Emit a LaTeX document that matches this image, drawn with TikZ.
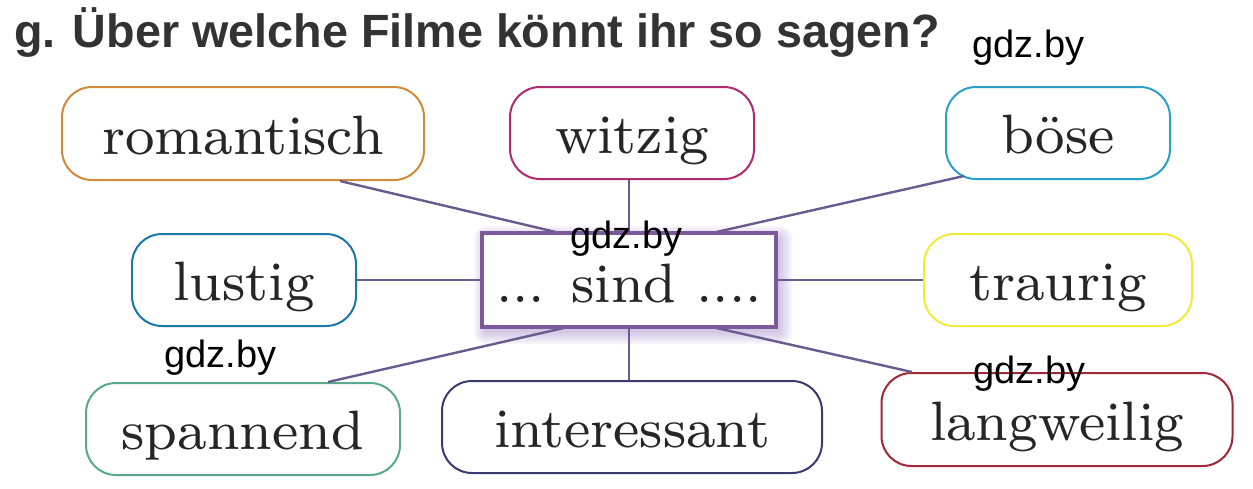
\documentclass[tikz,border=0pt]{standalone}
\usepackage{fontspec}
\newfontfamily\titlefont{Liberation Sans}
\newfontfamily\boxfont{lmroman8-regular}[Extension=.otf]
\definecolor{txt}{HTML}{262626}
\definecolor{ttl}{HTML}{333333}
\definecolor{cOrange}{HTML}{D08A3A}
\definecolor{cMagenta}{HTML}{B02A70}
\definecolor{cCyan}{HTML}{2AA0C8}
\definecolor{cBlue}{HTML}{1A78A8}
\definecolor{cYellow}{HTML}{F0EA3A}
\definecolor{cTeal}{HTML}{5AA890}
\definecolor{cNavy}{HTML}{3A3A70}
\definecolor{cRed}{HTML}{A0283A}
\definecolor{cPurple}{HTML}{7A5A9A}
\definecolor{cLine}{HTML}{6B5A8E}
\definecolor{cShadow}{HTML}{9A7AC8}
\tikzset{
  word/.style={draw=#1, line width=2pt, rounded corners=30pt, text=txt,
    font=\boxfont\fontsize{55.5}{58}\selectfont, text height=46pt, text depth=5pt,
    inner sep=0pt, align=center},
  hub/.style={draw=cPurple, line width=3.2pt, fill=white, text=txt,
    font=\boxfont\fontsize{55.5}{58}\selectfont, text height=48pt, text depth=4pt,
    inner sep=0pt, minimum width=294pt, minimum height=94pt},
  link/.style={draw=cLine, line width=2.4pt},
  wm/.style={font=\titlefont\fontsize{38}{40}\selectfont, text=black, anchor=base west, inner sep=0pt},
}
\begin{document}
\begin{tikzpicture}[x=1pt,y=-1pt]
\useasboundingbox (0,0) rectangle (1253,488);
\fill[white] (0,0) rectangle (1253,488);

\node[font=\titlefont\bfseries\fontsize{46.7}{50}\selectfont, text=ttl, anchor=base west, inner sep=0pt] (title) at (14,47) {g. Über welche Filme könnt ihr so sagen?};

\node[word=cOrange, minimum width=362pt, minimum height=93pt] (rom) at (243,133.5) {romantisch};
\node[word=cMagenta, minimum width=244pt, minimum height=92pt] (witz) at (632,133) {witzig};
\node[word=cCyan, minimum width=224pt, minimum height=92pt] (bose) at (1058,133) {böse};
\node[word=cBlue, minimum width=224pt, minimum height=92pt] (lus) at (244,280) {lustig};
\node[word=cYellow, minimum width=268pt, minimum height=92pt] (trau) at (1058,280) {traurig};
\node[word=cTeal, minimum width=314pt, minimum height=92pt] (spann) at (243,429) {spannend};
\node[word=cNavy, minimum width=380pt, minimum height=92pt] (inter) at (632,427) {interessant};
\node[word=cRed, minimum width=351pt, minimum height=93pt] (lang) at (1057,419.5) {langweilig};

% soft shadow of the hub
\foreach \r in {12,10,...,0}{
  \fill[cShadow, opacity=0.07, rounded corners=\r pt]
    (482-\r+4, 233-\r+5) rectangle (776+\r+4, 327+\r+5);
}

\draw[link] ([xshift=97pt]rom.south) -- (560,233) coordinate (hubA);
\draw[link] (witz.south -| 629,0) -- (629,233) coordinate (hubB);
\draw[link] ([xshift=-94pt,yshift=4pt]bose.south) -- (712,233) coordinate (hubC);
\draw[link] (lus.east) -- (482,280) coordinate (hubD);
\draw[link] (776,280) coordinate (hubE) -- (trau.west);
\draw[link] ([xshift=85pt]spann.north) -- (568,327) coordinate (hubF);
\draw[link] (629,327) coordinate (hubG) -- (inter.north -| 629,0);
\draw[link] ([xshift=-145pt]lang.north) -- (712,327) coordinate (hubH);

\node[hub] (cen) at (629,280) {... sind ....};

\node[wm] (wm1) at (972,57) {gdz.by};
\node[wm] (wm2) at (570,248) {gdz.by};
\node[wm] (wm3) at (164,367) {gdz.by};
\node[wm] (wm4) at (973,383) {gdz.by};
\end{tikzpicture}
\end{document}
